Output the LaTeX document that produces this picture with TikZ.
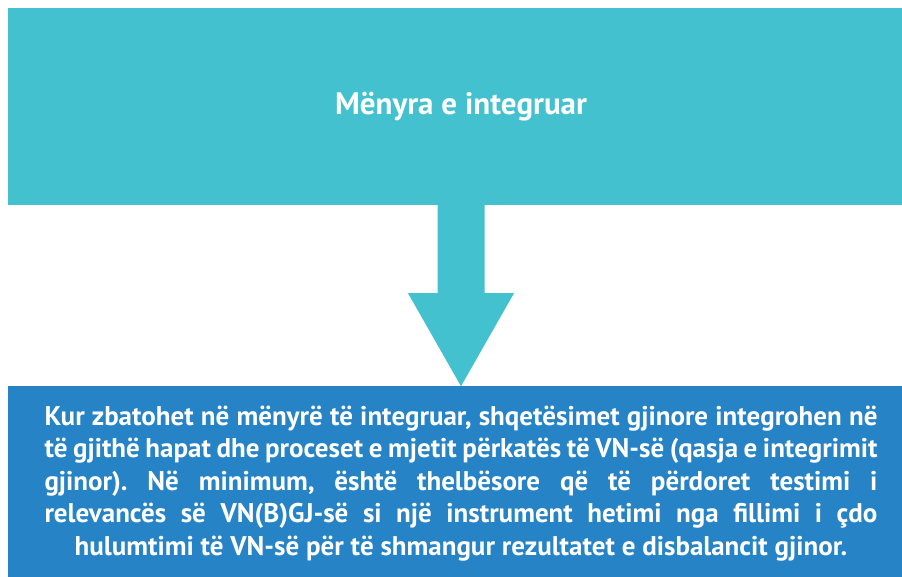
\documentclass[tikz,border=0pt]{standalone}
\usepackage{fontspec}
\setmainfont{PT Sans}
\usetikzlibrary{positioning}
\definecolor{modeteal}{HTML}{43C1CE}
\definecolor{descblue}{HTML}{2683C6}
\tikzset{
	panel/.style={rectangle, inner sep=0pt, minimum width=906pt, text=white, align=center, font=\bfseries\frenchspacing\fontsize{27}{32.5}\selectfont}
}
\newcommand{\fullline}[1]{\makebox[833pt][s]{#1}}

\begin{document}
\begin{tikzpicture}[x=1pt, y=-1pt]
	\useasboundingbox (0,0) rectangle (902,576);
	\clip (0,0) rectangle (902,576);
	\node (mode) at (461,106.5) [panel, fill=modeteal, minimum height=197pt, font=\bfseries\fontsize{31}{36}\selectfont] {\raisebox{4pt}{Mënyra e integruar}};
	\node (desc) [panel, fill=descblue, minimum height=194pt, below=181pt of mode] {\fullline{Kur zbatohet në mënyrë të integruar, shqetësimet gjinore integrohen në}\\
		\fullline{të gjithë hapat dhe proceset e mjetit përkatës të VN-së (qasja e integrimit}\\
		\fullline{gjinor). Në minimum, është thelbësore që të përdoret testimi i}\\
		\fullline{relevancës së VN(B)GJ-së si një instrument hetimi nga fillimi i çdo}\\
		hulumtimi të VN-së për të shmangur rezultatet e disbalancit gjinor.};
	\fill[modeteal] ([xshift=-23.5pt]mode.south) -- ++(0,88) -- ++(-29.5,0) -- (desc.north) -- ++(53,-93) -- ++(-29.5,0) -- ([xshift=23.5pt]mode.south) -- cycle;
\end{tikzpicture}
\end{document}
